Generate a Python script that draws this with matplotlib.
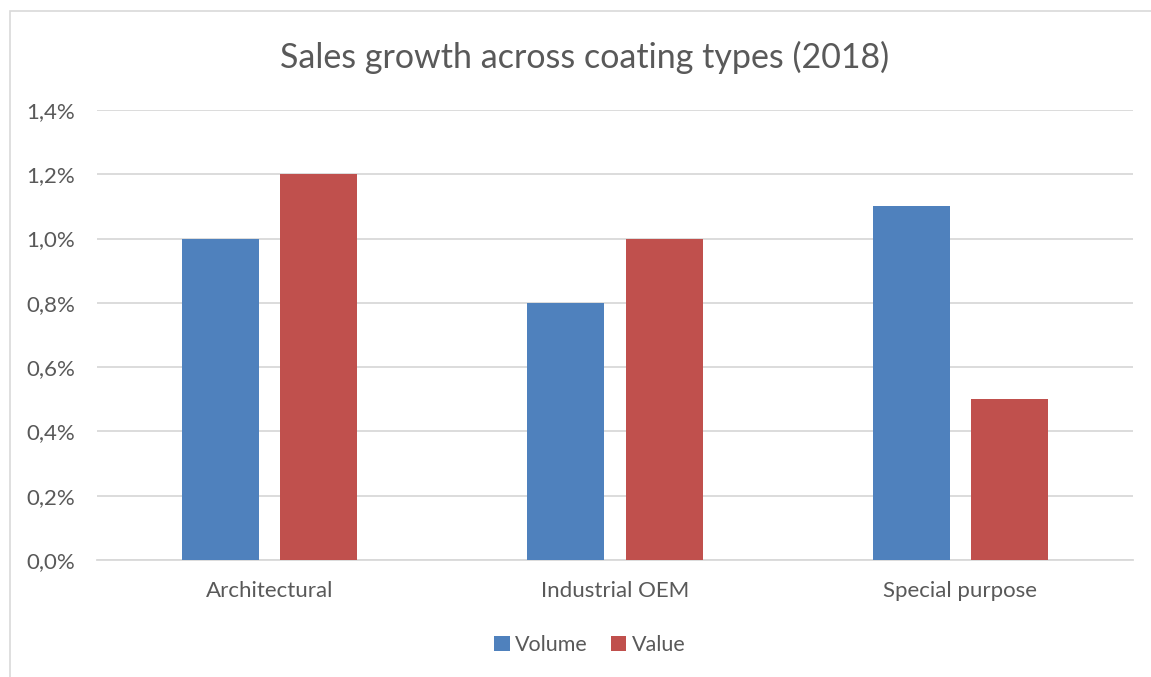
import numpy as np
import matplotlib.pyplot as plt
from matplotlib.patches import Rectangle
from matplotlib.ticker import FuncFormatter

categories = ['Architectural', 'Industrial OEM', 'Special purpose']
volume = [1.0, 0.8, 1.1]
value = [1.2, 1.0, 0.5]
series_names = ['Volume', 'Value']
y_ticks = [0.0, 0.2, 0.4, 0.6, 0.8, 1.0, 1.2, 1.4]

BLUE = '#4F81BD'
RED = '#C0504D'
TEXT = '#595959'
GRID = '#D9D9D9'

plt.rcParams['font.family'] = ['Lato', 'DejaVu Sans']

fig = plt.figure(figsize=(11.51, 6.77), dpi=100)
W, H = 1151, 677

# outer chart frame (runs off the right and bottom edges)
fig.patches.append(Rectangle((10 / W, -0.1), 1.2, (677 - 11) / H + 0.1,
                             transform=fig.transFigure, fill=False,
                             edgecolor=GRID, linewidth=1.2))

ax = fig.add_axes([97 / W, (677 - 560) / H, (1133 - 97) / W, 450 / H])

x = np.arange(len(categories))
bw = 0.223
off = 0.142
ax.bar(x - off, volume, bw, color=BLUE, label=series_names[0], zorder=3)
ax.bar(x + off, value, bw, color=RED, label=series_names[1], zorder=3)

ax.set_xlim(-0.5, len(categories) - 0.5)
ax.set_ylim(0, 1.4)
ax.set_yticks(y_ticks)
ax.yaxis.set_major_formatter(FuncFormatter(lambda v, p: f'{v:.1f}%'.replace('.', ',')))
ax.set_xticks(x)
ax.set_xticklabels(categories)

ax.grid(axis='y', color=GRID, linewidth=1.3, zorder=0)
for s in ['top', 'right', 'left']:
    ax.spines[s].set_visible(False)
ax.spines['bottom'].set_color(GRID)
ax.spines['bottom'].set_linewidth(1.3)
ax.tick_params(axis='both', length=0, labelsize=16, labelcolor=TEXT)
ax.tick_params(axis='y', pad=16)
ax.tick_params(axis='x', pad=15)

fig.text(585 / W, 1 - 57 / H, 'Sales growth across coating types (2018)',
         ha='center', va='center', fontsize=24.5, color=TEXT)

fig.legend(loc='center', bbox_to_anchor=(590 / W, 1 - 645 / H), ncol=2,
           frameon=False, fontsize=15.5, labelcolor=TEXT,
           handlelength=0.7, handleheight=0.7, handletextpad=0.25,
           columnspacing=1.1)

fig.savefig('out.png', dpi=100)
